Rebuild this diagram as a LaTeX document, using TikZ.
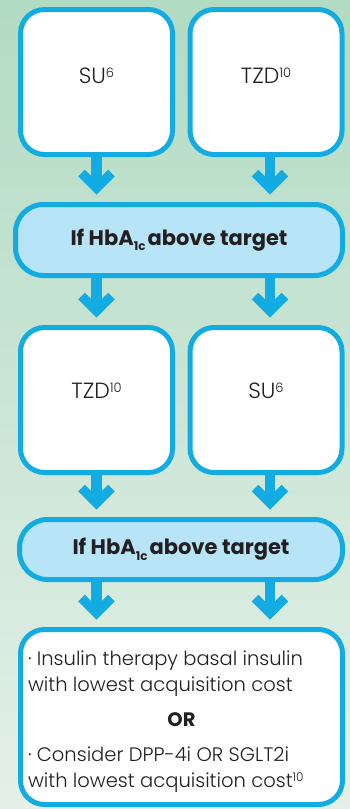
\documentclass[tikz,border=0pt]{standalone}
\usepackage{fontspec}
\setmainfont{Poppins}[UprightFont={* Light},BoldFont={* Bold}]
\usetikzlibrary{calc}
\definecolor{cblue}{RGB}{18,172,226}
\definecolor{bandfill}{RGB}{184,228,248}
\definecolor{bgtop}{RGB}{178,219,195}
\definecolor{bgbot}{RGB}{228,240,232}
\definecolor{ink}{RGB}{35,31,32}
\newcommand\flowarr[3]{%
  \coordinate (tip) at ($(#1.south |- #2.north)+(#3,-14)$);
  \draw[stem] ($(#1.south)+(#3,0)$) -- (tip);
  \draw[chevron] ($(tip)+(-15,-15)$) -- (tip) -- ($(tip)+(15,-15)$);
}
\newcommand\lline[1]{\makebox[307pt][l]{#1}}
\newcommand\hba{If HbA\raisebox{-5.5pt}{\fontsize{12}{12}\selectfont 1c}\hspace{2pt}above target}
\newcommand\sups[1]{\raisebox{6pt}{\fontsize{13}{13}\selectfont #1}}
\begin{document}
\begin{tikzpicture}[x=1pt,y=-1pt,
  box/.style={draw=cblue, line width=5pt, fill=white, rounded corners=24pt,
    minimum width=152pt, minimum height=145pt, inner sep=0pt, text=ink,
    font=\fontsize{22}{26}\selectfont, text height=15pt},
  band/.style={draw=cblue, line width=5pt, fill=bandfill, rounded corners=28pt,
    inner sep=0pt, text=ink, font=\bfseries\fontsize{21}{24}\selectfont},
  stem/.style={cblue, line width=10.5pt},
  chevron/.style={cblue, line width=9.5pt, miter limit=10},
]
\useasboundingbox (0,0) rectangle (350,809);
\shade[top color=bgtop, bottom color=bgbot] (0,0) rectangle (350,809);

\node[box, text depth=13pt] (su1) at (96.5,82) {SU\sups{6}};
\node[box, text depth=13pt] (tzd1) at (266,82) {TZD\sups{10}};

\node[band, minimum width=327pt, minimum height=71pt] (band1) at (179,240) {\hba};

\node[box, text depth=19pt] (tzd2) at (96.5,400) {TZD\sups{10}};
\node[box, text depth=19pt] (su2) at (266,400) {SU\sups{6}};

\node[band, minimum width=323pt, minimum height=60pt] (band2) at (181,549.5) {\hba};

\node[box, minimum width=322pt, minimum height=175pt,
  font=\fontsize{19.5}{26}\selectfont, text height=, text depth=] (final) at (181.5,717)
  {\raisebox{-4pt}[\height][\depth]{\begin{tabular}{@{}c@{}}
   \lline{· Insulin therapy basal insulin}\\
   \lline{with lowest acquisition cost}\\[9pt]
   {\bfseries OR}\\[9pt]
   \lline{· Consider DPP-4i OR SGLT2i}\\
   \lline{with lowest acquisition cost\raisebox{6pt}{\fontsize{12}{12}\selectfont 10}}
   \end{tabular}}};

\flowarr{su1}{band1}{0}
\flowarr{tzd1}{band1}{4}
\flowarr{band1}{tzd2}{-82.5}
\flowarr{band1}{su2}{91}
\flowarr{tzd2}{band2}{0}
\flowarr{su2}{band2}{4}
\flowarr{band2}{final}{-84.5}
\flowarr{band2}{final}{89}
\end{tikzpicture}
\end{document}
